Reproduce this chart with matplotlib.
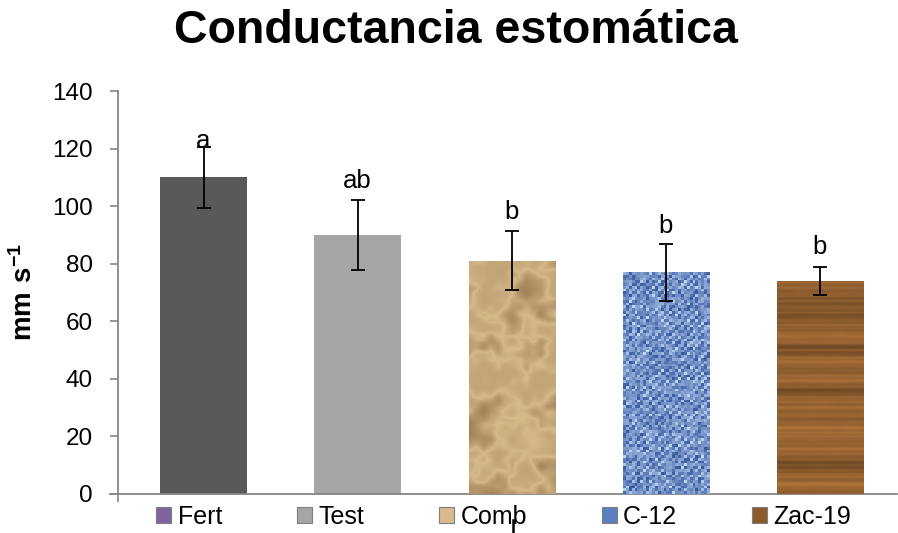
import matplotlib
matplotlib.use("Agg")
import matplotlib.pyplot as plt
from matplotlib.patches import Patch
import numpy as np

plt.rcParams['font.family'] = ['Liberation Sans', 'DejaVu Sans']
plt.rcParams['mathtext.fontset'] = 'custom'
plt.rcParams['mathtext.rm'] = 'Liberation Sans'
plt.rcParams['mathtext.bf'] = 'Liberation Sans:bold'

# data
groups = ['Fert', 'Test', 'Comb', 'C-12', 'Zac-19']
means = [110, 90, 81, 77, 74]
errors = [10.5, 12.3, 10.3, 9.8, 5.0]
letters = ['a', 'ab', 'b', 'b', 'b']
letter_y = [120.2, 106.3, 95.5, 90.7, 83.4]

bar_colors = ['#595959', '#A6A6A6', '#C4A27A', '#6F8FC9', '#8B5A2B']
legend_colors = ['#8064A2', '#A6A6A6', '#D9B98E', '#5B7FC0', '#8B5A2B']

fig = plt.figure(figsize=(8.98, 5.33), dpi=100)
ax = fig.add_axes([118 / 898, 39 / 533, 779 / 898, 403 / 533])

x = np.arange(len(groups))
bars = ax.bar(x, means, width=0.56, color=bar_colors, zorder=2)
ax.errorbar(x, means, yerr=errors, fmt='none', ecolor='black',
            elinewidth=1.3, capsize=5, capthick=1.3, zorder=4)

for xi, lab, ly in zip(x, letters, letter_y):
    ax.text(xi, ly, lab, ha='center', va='baseline', fontsize=18.5, zorder=5)

# texture fills (styling only) for the last three bars
rng = np.random.default_rng(7)


def upsample(a, H, W):
    h, w = a.shape
    yi = np.linspace(0, h - 1, H)
    xi = np.linspace(0, w - 1, W)
    y0 = np.floor(yi).astype(int)
    x0 = np.floor(xi).astype(int)
    y1 = np.minimum(y0 + 1, h - 1)
    x1 = np.minimum(x0 + 1, w - 1)
    fy = (yi - y0)[:, None]
    fx = (xi - x0)[None, :]
    top = a[y0][:, x0] * (1 - fx) + a[y0][:, x1] * fx
    bot = a[y1][:, x0] * (1 - fx) + a[y1][:, x1] * fx
    return top * (1 - fy) + bot * fy


H, W = 240, 90

# crumpled paper
field = (upsample(rng.random((9, 4)), H, W)
         + 0.6 * upsample(rng.random((18, 7)), H, W)
         + 0.3 * upsample(rng.random((36, 13)), H, W))
field = (field - field.min()) / (field.max() - field.min())
ridge = 1 - np.abs(field - 0.5) * 2
shade = 0.35 + 0.4 * field + 0.35 * ridge ** 3
light = np.array([0.88, 0.77, 0.58])
dark = np.array([0.50, 0.37, 0.22])
paper = dark + (light - dark) * np.clip(shade, 0, 1)[..., None]

# blue woven
n = rng.random((H // 3, W // 3))
n = 0.65 * n + 0.35 * ((np.arange(W // 3)[None, :] + np.arange(H // 3)[:, None]) % 3 == 0)
dark = np.array([0.22, 0.35, 0.62])
light = np.array([0.76, 0.85, 0.97])
woven = dark + (light - dark) * np.clip(n, 0, 1)[..., None]

# wood
rows = (upsample(rng.random((30, 1)), H, 1) * 0.6
        + upsample(rng.random((120, 1)), H, 1) * 0.4)
rows = np.repeat(rows, W, axis=1) + 0.06 * upsample(rng.random((60, 8)), H, W)
wbase = np.array([0.64, 0.42, 0.21])
wood = np.clip(wbase * (0.6 + 0.55 * rows[..., None]), 0, 1)

for bar, img, interp in zip(list(bars)[2:], [paper, woven, wood],
                            ['bilinear', 'nearest', 'bilinear']):
    x0 = bar.get_x()
    im = ax.imshow(img, extent=(x0, x0 + bar.get_width(), 0, bar.get_height()),
                   aspect='auto', interpolation=interp, zorder=3)
    im.set_clip_path(bar)

ax.set_xlim(-0.555, 4.5)
ax.set_ylim(0, 140)
ax.set_yticks(np.arange(0, 141, 20))
ax.tick_params(axis='y', labelsize=17.5, direction='out', length=6,
               color='#868686', width=1.2, pad=12)
ax.set_xticks([-0.555])
ax.set_xticklabels([''])
ax.tick_params(axis='x', direction='out', length=6, color='#868686', width=1.2)

for side in ['top', 'right']:
    ax.spines[side].set_visible(False)
ax.spines['left'].set_color('#868686')
ax.spines['bottom'].set_color('#868686')
ax.spines['left'].set_linewidth(1.3)
ax.spines['bottom'].set_linewidth(1.3)
ax.spines['bottom'].set_bounds(-0.607, 4.5)

ax.set_ylabel(r'$\mathbf{mm\ s^{-1}}$', fontsize=20, labelpad=10)

fig.text(456 / 898, 1 - 43 / 533, 'Conductancia estomática', ha='center',
         va='baseline', fontsize=33.5, fontweight='bold')

handles = [Patch(facecolor=c, edgecolor='#7F7F7F', linewidth=0.8)
           for c in legend_colors]
fig.legend(handles, groups, loc='center', bbox_to_anchor=(0.561, 0.03),
           ncol=5, frameon=False, fontsize=18, handlelength=0.6,
           handleheight=0.6, handletextpad=0.25, columnspacing=3.0,
           borderaxespad=0)

fig.add_artist(plt.Line2D([513 / 898, 513 / 898], [0, 13 / 533],
                          color='black', lw=1.8))

fig.savefig('out.png', dpi=100)
